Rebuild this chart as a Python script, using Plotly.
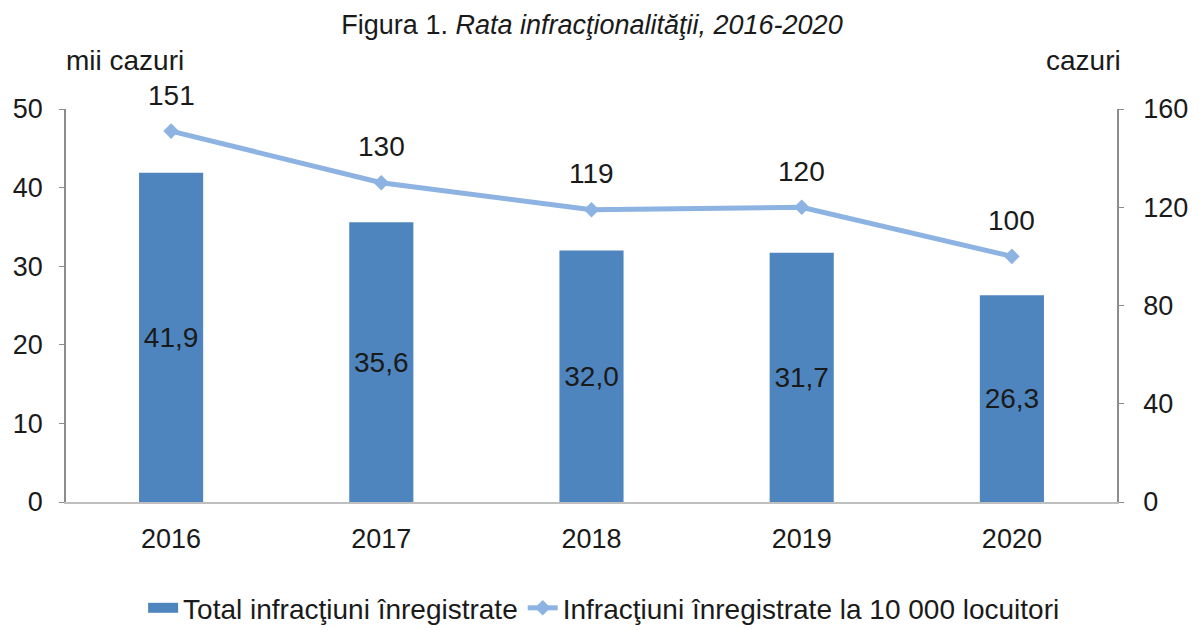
import plotly.graph_objects as go

years = ["2016", "2017", "2018", "2019", "2020"]
total = [41.9, 35.6, 32.0, 31.7, 26.3]
rate = [151, 130, 119, 120, 100]
left_ticks = [0, 10, 20, 30, 40, 50]
right_ticks = [0, 40, 80, 120, 160]

FONT = "Liberation Sans"
FS = 28
TFS = 27
TXT = "#1a1a1a"
BAR_C = "#4F85BE"
LINE_C = "#8DB3E2"

fig = go.Figure()
fig.add_trace(go.Bar(
    x=years, y=total, name="Total infracţiuni înregistrate",
    marker=dict(color=BAR_C, line=dict(width=0)),
    width=0.305, showlegend=False,
    text=[f"{v:.1f}".replace(".", ",") for v in total],
    textposition="inside", insidetextanchor="middle",
    textfont=dict(family=FONT, size=FS, color=TXT),
    textangle=0,
))
# legend entry for the bars (wide rectangle like the reference)
fig.add_trace(go.Scatter(
    x=[None], y=[None], name="Total infracţiuni înregistrate",
    mode="lines", line=dict(color=BAR_C, width=12),
))
fig.add_trace(go.Scatter(
    x=years, y=rate, name="Infracţiuni înregistrate la 10 000 locuitori",
    yaxis="y2", mode="lines+markers",
    line=dict(color=LINE_C, width=5),
    marker=dict(symbol="diamond", size=12, color=LINE_C),
))
for i, v in enumerate(rate):
    fig.add_annotation(x=i, y=v, xref="x", yref="y2", text=str(v), showarrow=False,
                       yshift=36, yanchor="middle",
                       font=dict(family=FONT, size=FS, color=TXT))

fig.add_annotation(xref="paper", yref="paper", x=(125 - 66) / 1051, y=1.0, yshift=49,
                   text="mii cazuri", showarrow=False, xanchor="center", yanchor="middle",
                   font=dict(family=FONT, size=FS, color=TXT))
fig.add_annotation(xref="paper", yref="paper", x=(1083 - 66) / 1051, y=1.0, yshift=49,
                   text="cazuri", showarrow=False, xanchor="center", yanchor="middle",
                   font=dict(family=FONT, size=FS, color=TXT))

fig.update_layout(
    width=1192, height=622,
    margin=dict(l=58, r=83, t=101, b=128, autoexpand=False),
    plot_bgcolor="white", paper_bgcolor="white",
    font=dict(family=FONT, size=FS, color=TXT),
    title=dict(text="Figura 1. <i>Rata infracţionalităţii, 2016-2020</i>",
               x=(592 - 8) / 1192, xanchor="center", y=1 - 17 / 622, yanchor="middle",
               font=dict(family=FONT, size=27, color=TXT)),
    xaxis=dict(type="category", range=[-0.5, 4.5], showline=True, linecolor="#BFBFBF",
               linewidth=1.5, ticks="", tickfont=dict(size=TFS), showgrid=False,
               automargin=False, ticklabelstandoff=12),
    yaxis=dict(range=[0, 50], tickvals=left_ticks, showgrid=False,
               showline=True, linecolor="#8C8C8C", linewidth=1.5,
               ticks="outside", ticklen=5, tickcolor="#8C8C8C",
               tickfont=dict(size=TFS), zeroline=False, ticklabelstandoff=11,
               automargin=False),
    yaxis2=dict(range=[0, 160], tickvals=right_ticks, overlaying="y", side="right",
                showgrid=False, showline=True, linecolor="#8C8C8C", linewidth=1.5,
                ticks="outside", ticklen=5, tickcolor="#8C8C8C",
                tickfont=dict(size=TFS), zeroline=False, ticklabelstandoff=14,
                automargin=False),
    legend=dict(orientation="h", x=0.512, xanchor="center", y=-0.27, yanchor="middle",
                font=dict(size=FS), traceorder="normal", tracegroupgap=0),
    showlegend=True,
)
fig.write_html("out.html")
